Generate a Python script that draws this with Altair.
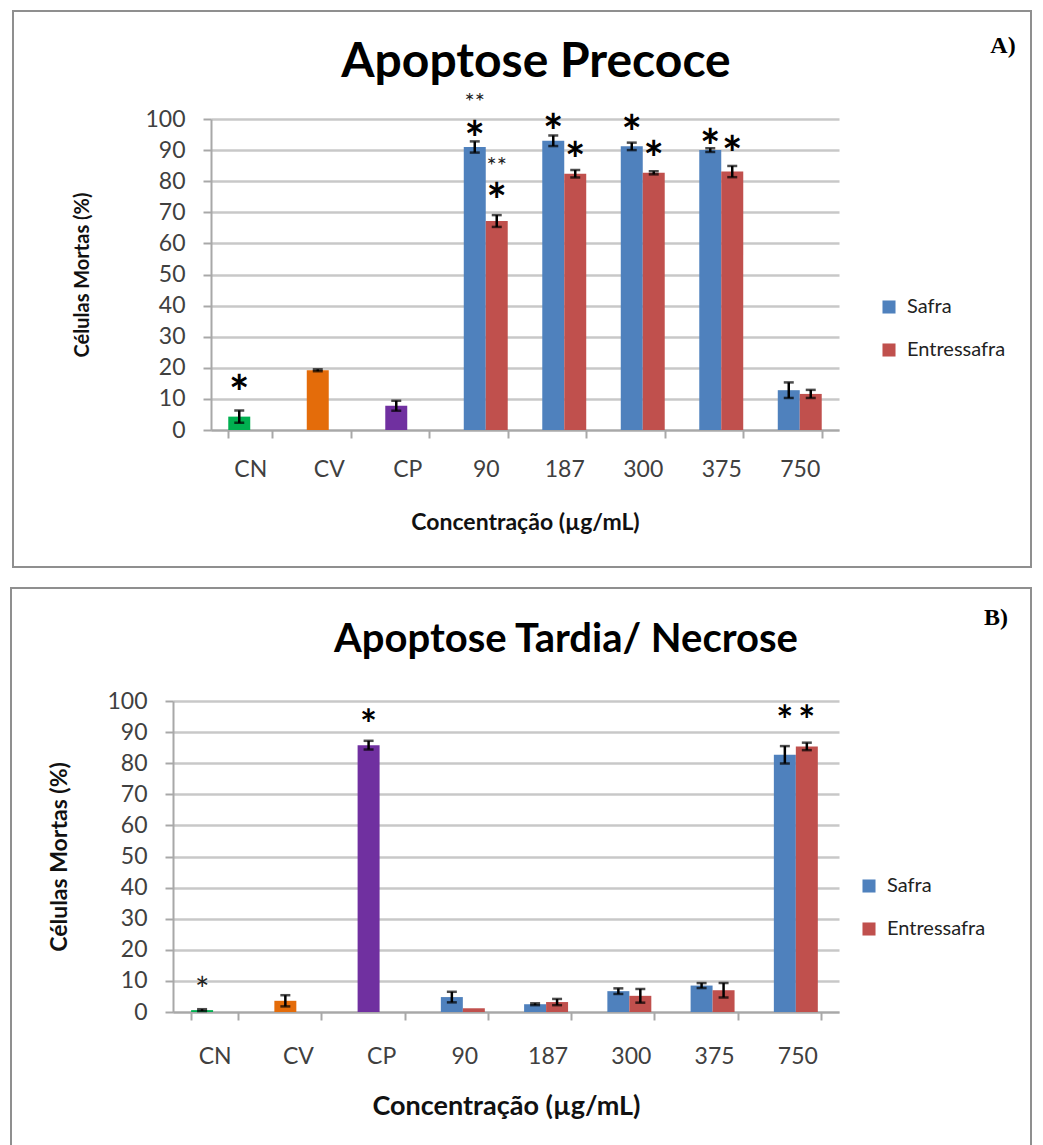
import altair as alt
import pandas as pd

# ---- data -------------------------------------------------------------
categories = ["CN", "CV", "CP", "90", "187", "300", "375", "750"]
controls = ["CN", "CV", "CP"]
doses = ["90", "187", "300", "375", "750"]
series = ["Safra", "Entressafra"]
y_ticks = [0, 10, 20, 30, 40, 50, 60, 70, 80, 90, 100]

# Apoptose precoce (%)
ctrl_a = [4.3, 19.2, 7.8]
ctrl_a_err = [2.0, 0.3, 1.6]
safra_a = [91.0, 93.0, 91.2, 90.0, 12.8]
safra_a_err = [1.8, 1.7, 1.2, 0.6, 2.5]
entr_a = [67.2, 82.4, 82.7, 83.1, 11.6]
entr_a_err = [1.9, 1.2, 0.5, 1.8, 1.3]

# Apoptose tardia / necrose (%)
ctrl_b = [0.6, 3.6, 85.8]
ctrl_b_err = [0.3, 1.8, 1.4]
safra_b = [4.8, 2.5, 6.7, 8.5, 82.7]
safra_b_err = [1.7, 0.3, 0.9, 0.8, 2.8]
entr_b = [1.2, 3.2, 5.2, 7.0, 85.4]
entr_b_err = [0.0, 1.0, 2.2, 2.3, 1.2]

# significance marks: (category, series slot, height)
stars_a_big = [("CN", "Safra", 15.0), ("90", "Safra", 96.6), ("90", "Entressafra", 76.6),
               ("187", "Safra", 98.8), ("187", "Entressafra", 89.7),
               ("300", "Safra", 98.5), ("300", "Entressafra", 90.2),
               ("375", "Safra", 94.0), ("375", "Entressafra", 91.8)]
stars_a_small = [("90", "Safra", 107.0), ("90", "Entressafra", 86.6)]
stars_b_big = [("CP", "Safra", 95.0), ("750", "Safra", 96.0), ("750", "Entressafra", 96.0)]
stars_b_small = [("CN", "Safra", 9.3)]

color_domain = ["Safra", "Entressafra", "CN", "CV", "CP"]
color_range = ["#4F81BD", "#C0504D", "#00B050", "#E46C0A", "#7030A0"]

FONT = "Lato"
PLOT_W = 628
PLOT_H = 311


def bar_table(ctrl, ctrl_err, saf, saf_err, ent, ent_err):
    rows = []
    for c, v, e in zip(controls, ctrl, ctrl_err):
        rows.append(dict(cat=c, slot="Safra", grp=c, val=v, err=e))
    for c, v, e in zip(doses, saf, saf_err):
        rows.append(dict(cat=c, slot="Safra", grp="Safra", val=v, err=e))
    for c, v, e in zip(doses, ent, ent_err):
        rows.append(dict(cat=c, slot="Entressafra", grp="Entressafra", val=v, err=e))
    df = pd.DataFrame(rows)
    df["lo"] = df["val"] - df["err"]
    df["hi"] = df["val"] + df["err"]
    return df


def star_table(items, text):
    return pd.DataFrame([dict(cat=c, slot=s, pos=p, txt=text) for c, s, p in items])


def panel(df, stars_big, stars_small, big_size, small_size, small_text, title, title_size,
          tag, x_left, frame, title_xy, tag_xy, legend_xy, pad_inner, xaxis, yaxis):
    # x_left < 0 lets the plot start left of the group origin (y axis is offset to match)
    x_axis = alt.Axis(title="Concentração (µg/mL)", labelAngle=0, tickBand="extent",
                      tickSize=8, labelPadding=xaxis[0], titlePadding=xaxis[1],
                      titleFontSize=xaxis[2])
    y_axis = alt.Axis(title="Células Mortas (%)", values=y_ticks, labelOverlap=False,
                      tickSize=8, labelPadding=18, titlePadding=yaxis[0],
                      titleFontSize=yaxis[1], offset=-x_left)
    x_scale = alt.Scale(domain=categories, range=[x_left, PLOT_W],
                        paddingInner=pad_inner, paddingOuter=pad_inner / 2)
    y_scale = alt.Scale(domain=[0, 100], nice=False)
    xo = alt.XOffset("slot:N", scale=alt.Scale(domain=series, paddingInner=0, paddingOuter=0))

    def xenc():
        return alt.X("cat:N", sort=categories, scale=x_scale, axis=x_axis)

    def yenc(field):
        return alt.Y(field, scale=y_scale, axis=y_axis)

    bars = alt.Chart(df).mark_bar().encode(
        x=xenc(), xOffset=xo, y=yenc("val:Q"),
        color=alt.Color("grp:N", scale=alt.Scale(domain=color_domain, range=color_range),
                        legend=alt.Legend(values=series, title=None, orient="none",
                                          legendX=legend_xy[0], legendY=legend_xy[1])),
    )
    errdf = df[df["err"] > 0]
    err_rule = alt.Chart(errdf).mark_rule(color="black", strokeWidth=2.5).encode(
        x=xenc(), xOffset=xo, y=yenc("lo:Q"), y2="hi:Q")
    cap_lo = alt.Chart(errdf).mark_tick(color="black", thickness=2.5, size=10).encode(
        x=xenc(), xOffset=xo, y=yenc("lo:Q"))
    cap_hi = alt.Chart(errdf).mark_tick(color="black", thickness=2.5, size=10).encode(
        x=xenc(), xOffset=xo, y=yenc("hi:Q"))

    star_big = alt.Chart(star_table(stars_big, "*")).mark_text(
        font=FONT, fontSize=big_size, fontWeight="bold", color="black",
        baseline="alphabetic", dy=big_size * 0.55).encode(
        x=xenc(), xOffset=xo, y=yenc("pos:Q"), text="txt:N")
    star_small = alt.Chart(star_table(stars_small, small_text)).mark_text(
        font=FONT, fontSize=small_size, fontWeight="normal", color="#222222",
        baseline="alphabetic", dy=small_size * 0.55).encode(
        x=xenc(), xOffset=xo, y=yenc("pos:Q"), text="txt:N")

    one = pd.DataFrame({"k": [0]})
    box = alt.Chart(one).mark_rect(filled=False, stroke="#8f8f8f", strokeWidth=2).encode(
        x=alt.value(frame[0]), x2=alt.value(frame[1]),
        y=alt.value(frame[2]), y2=alt.value(frame[3]))
    ttl = alt.Chart(pd.DataFrame({"t": [title]})).mark_text(
        font=FONT, fontSize=title_size, fontWeight="bold", color="black", align="center",
        baseline="middle").encode(x=alt.value(title_xy[0]), y=alt.value(title_xy[1]), text="t:N")
    tg = alt.Chart(pd.DataFrame({"t": [tag]})).mark_text(
        font="Liberation Serif", fontSize=24, fontWeight="bold", color="black", align="center",
        baseline="middle").encode(x=alt.value(tag_xy[0]), y=alt.value(tag_xy[1]), text="t:N")

    return alt.layer(box, ttl, tg, bars, err_rule, cap_lo, cap_hi, star_big, star_small).properties(
        width=PLOT_W, height=PLOT_H)


df_a = bar_table(ctrl_a, ctrl_a_err, safra_a, safra_a_err, entr_a, entr_a_err)
df_b = bar_table(ctrl_b, ctrl_b_err, safra_b, safra_b_err, entr_b, entr_b_err)

chart_a = panel(df_a, stars_a_big, stars_a_small, 48, 24, "**", "Apoptose Precoce", 48, "A)",
                0, (-198, 820, -108, 448), (325, -56), (792, -73), (668, 178), 0.44,
                (20, 30, 23), (52, 20))
chart_b = panel(df_b, stars_b_big, stars_b_small, 40, 34, "*", "Apoptose Tardia/ Necrose", 40, "B)",
                -38, (-200, 820, -113, 452), (355, -61), (785, -83), (648, 175), 0.435,
                (25, 25, 27), (35, 23))

chart = alt.vconcat(chart_a, chart_b, spacing=19).resolve_scale(
    color="independent"
).resolve_legend(color="independent").properties(
    padding={"left": 10, "top": 10, "right": 0, "bottom": 0}, background="white"
).configure_view(stroke=None).configure_axis(
    labelFont=FONT, labelFontSize=23, labelColor="#404040",
    titleFont=FONT, titleFontWeight="bold", titleColor="#111111",
    domainColor="#a8a8a8", domainWidth=2, tickColor="#a8a8a8", tickWidth=2,
    gridColor="#c8c8c8", gridWidth=2.5,
).configure_axisX(grid=False).configure_legend(
    labelFont=FONT, labelFontSize=20, labelColor="#222222", symbolType="square",
    symbolSize=170, symbolStrokeWidth=0, rowPadding=23, labelOffset=8,
)

chart.save("out.html", embed_options={"renderer": "svg", "actions": False})
